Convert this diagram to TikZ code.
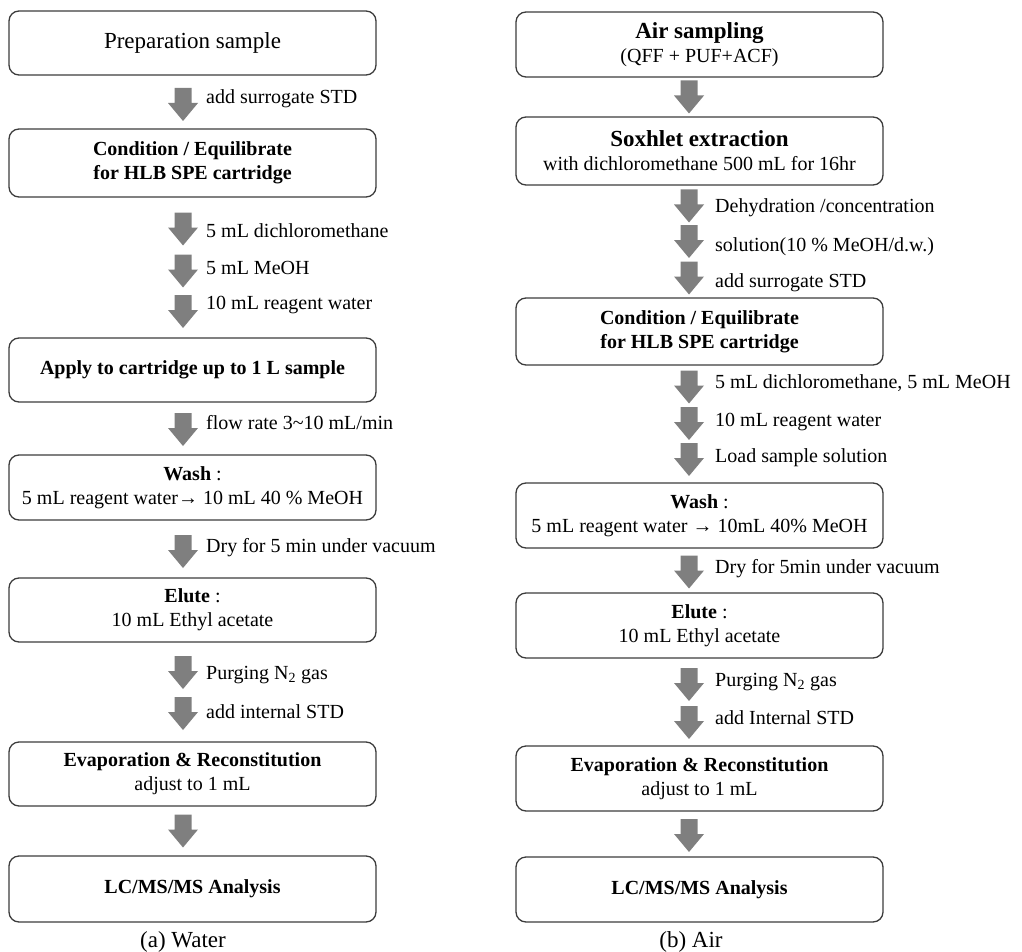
\documentclass[tikz,border=0pt]{standalone}
\usepackage{fontspec}
\setmainfont{Liberation Serif}
\usepackage{xcolor}
\usepackage{tikz}
\definecolor{arrowgray}{HTML}{7F7F7F}
\definecolor{boxline}{HTML}{3C3C3C}
\newcommand{\hdr}[1]{{\fontsize{23}{27}\selectfont\bfseries #1}}
\tikzset{
    blkarrow/.pic={
        \fill[arrowgray] (-8.5,-16.5) -- (8.5,-16.5) -- (8.5,-1.5) -- (15,-1.5)
            -- (0,16.5) -- (-15,-1.5) -- (-8.5,-1.5) -- cycle;
        \coordinate (-tip) at (0,16.5);
    }
}

\begin{document}
\begin{tikzpicture}[x=1pt, y=-1pt,
    box/.style={draw=boxline, line width=1.3pt, rounded corners=10pt, minimum width=367pt,
        minimum height=64pt, align=center, inner sep=2pt, font=\fontsize{20}{24}\selectfont},
    lbl/.style={anchor=west, inner sep=0pt, font=\fontsize{20}{24}\selectfont},
    captxt/.style={font=\fontsize{23}{27}\selectfont}]
    \useasboundingbox (0,0) rectangle (1022,952);

    % (a) water
    \node[box] (wprep) at (192.5,43) {\fontsize{23}{27}\selectfont Preparation sample};
    \pic (wa1) at (183,104.5) {blkarrow};
    \node[lbl] (wt1) at (206,99) {add surrogate STD};
    \node[box, minimum height=68pt] (wcond) at (192.5,163) {\textbf{Condition / Equilibrate}\\\textbf{for HLB SPE cartridge}};
    \pic (wa2) at (183,229) {blkarrow};
    \node[lbl] (wt2) at (206,231) {5 mL dichloromethane};
    \pic (wa3) at (183,271) {blkarrow};
    \node[lbl] (wt3) at (206,268) {5 mL MeOH};
    \pic (wa4) at (183,311.5) {blkarrow};
    \node[lbl] (wt4) at (206,305) {10 mL reagent water};
    \node[box] (wapply) at (192.5,370) {\textbf{Apply to cartridge up to 1 L sample}};
    \pic (wa5) at (183,429.5) {blkarrow};
    \node[lbl] (wt5) at (206,423) {flow rate 3\textasciitilde10 mL/min};
    \node[box, minimum height=65pt] (wwash) at (192.5,487.5) {\textbf{Wash} :\\5 mL reagent water→ 10 mL 40 \% MeOH};
    \pic (wa6) at (183,551.5) {blkarrow};
    \node[lbl] (wt6) at (206,548) {Dry for 5 min under vacuum};
    \node[box] (welute) at (192.5,610) {\textbf{Elute} :\\10 mL Ethyl acetate};
    \pic (wa7) at (183,672.5) {blkarrow};
    \node[lbl] (wt7) at (206,675) {Purging N\textsubscript{2} gas};
    \pic (wa8) at (183,713.5) {blkarrow};
    \node[lbl] (wt8) at (206,712) {add internal STD};
    \node[box] (wevap) at (192.5,774) {\textbf{Evaporation \& Reconstitution}\\adjust to 1 mL};
    \pic (wa9) at (183,831) {blkarrow};
    \node[box, minimum height=66pt] (wlc) at (192.5,889) {\textbf{LC/MS/MS Analysis}};
    \node[captxt] (wcap) at (183,942) {(a) Water};

    % (b) air
    \node[box, minimum height=65pt] (asamp) at (699.5,44.5) {\hdr{Air sampling}\\(QFF + PUF+ACF)};
    \pic (aa1) at (689,97) {blkarrow};
    \node[box, minimum height=68pt] (asox) at (699.5,151) {\hdr{Soxhlet extraction}\\with dichloromethane 500 mL for 16hr};
    \pic (aa2) at (689,206) {blkarrow};
    \node[lbl] (at2) at (715,208) {Dehydration /concentration};
    \pic (aa3) at (689,241.5) {blkarrow};
    \node[lbl] (at3) at (715,247) {solution(10 \% MeOH/d.w.)};
    \pic (aa4) at (689,278) {blkarrow};
    \node[lbl] (at4) at (715,283) {add surrogate STD};
    \node[box, minimum height=67pt] (acond) at (699.5,331.5) {\textbf{Condition / Equilibrate}\\\textbf{for HLB SPE cartridge}};
    \pic (aa5) at (689,387) {blkarrow};
    \node[lbl] (at5) at (715,383) {5 mL dichloromethane, 5 mL MeOH};
    \pic (aa6) at (689,423.5) {blkarrow};
    \node[lbl] (at6) at (715,422) {10 mL reagent water};
    \pic (aa7) at (689,459.5) {blkarrow};
    \node[lbl] (at7) at (715,458) {Load sample solution};
    \node[box, minimum height=65pt] (awash) at (699.5,515.5) {\textbf{Wash} :\\5 mL reagent water → 10mL 40\% MeOH};
    \pic (aa8) at (689,572) {blkarrow};
    \node[lbl] (at8) at (715,569) {Dry for 5min under vacuum};
    \node[box, minimum height=65pt] (aelute) at (699.5,625.5) {\textbf{Elute} :\\10 mL Ethyl acetate};
    \pic (aa9) at (689,684.5) {blkarrow};
    \node[lbl] (at9) at (715,682) {Purging N\textsubscript{2} gas};
    \pic (aa10) at (689,722.5) {blkarrow};
    \node[lbl] (at10) at (715,718) {add Internal STD};
    \node[box, minimum height=65pt] (aevap) at (699.5,778.5) {\textbf{Evaporation \& Reconstitution}\\adjust to 1 mL};
    \pic (aa11) at (689,835.5) {blkarrow};
    \node[box, minimum height=65pt] (alc) at (699.5,889.5) {\textbf{LC/MS/MS Analysis}};
    \node[captxt] (acap) at (691,942) {(b) Air};
\end{tikzpicture}
\end{document}
